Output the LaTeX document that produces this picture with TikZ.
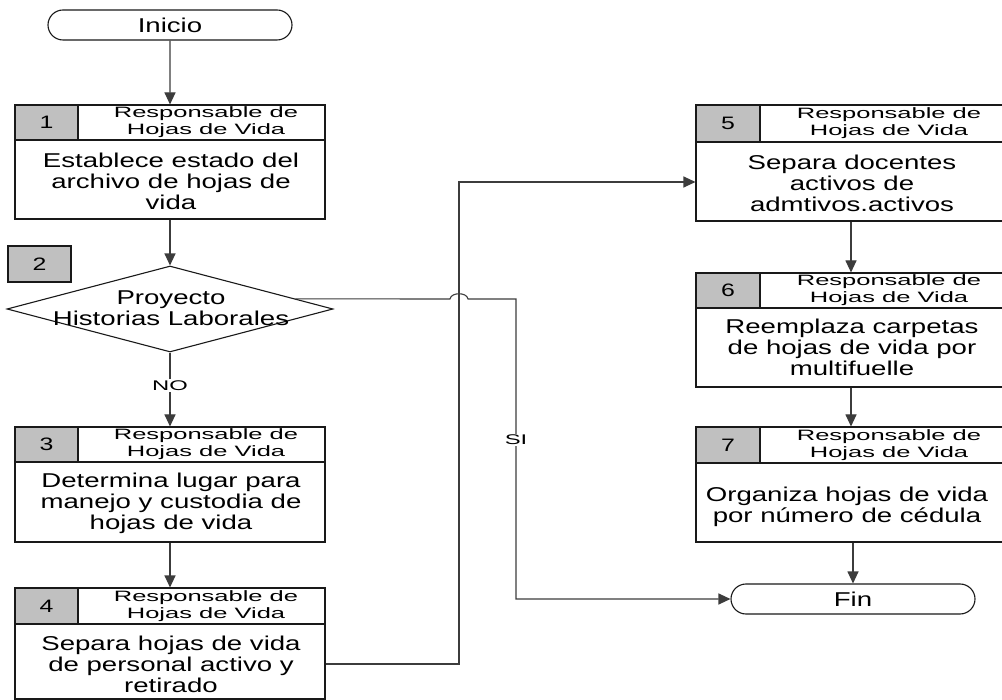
\documentclass[tikz,border=0pt]{standalone}
\usepackage{fontspec}
\setmainfont{Liberation Sans}
\newfontfamily\bodyfont[FakeStretch=1.38]{Liberation Sans}
\newfontfamily\hdrfont[FakeStretch=1.7]{Liberation Sans}
\usetikzlibrary{arrows.meta,shapes.geometric,shapes.misc,calc}

\definecolor{cellgray}{RGB}{192,192,192}
\definecolor{linegray}{RGB}{60,60,60}

\tikzset{
  edge/.style={draw=linegray, line width=1.1pt},
  flow/.style={edge, -{Triangle[length=12pt,width=11pt]}},
  procbox/.style={draw=black!90, line width=1.1pt, rectangle, minimum width=310pt, inner sep=0pt},
  numcell/.style={draw=black!90, line width=1.1pt, fill=cellgray, rectangle,
    minimum width=63pt, inner sep=0pt, font=\bodyfont\fontsize{18}{20}\selectfont},
  hdr/.style={align=center, inner sep=0pt, font=\hdrfont\fontsize{15}{17}\selectfont},
  body/.style={align=center, inner sep=0pt, font=\bodyfont\fontsize{20}{21}\selectfont},
  term/.style={draw=black!90, line width=1.1pt, rounded rectangle, minimum width=244pt,
    minimum height=30pt, inner sep=0pt, font=\bodyfont\fontsize{20}{21}\selectfont},
  decision/.style={draw=black!90, line width=1.1pt, diamond, aspect=3.8, minimum width=326pt,
    minimum height=86pt, inner sep=0pt},
  lab/.style={fill=white, inner sep=1.5pt, font=\hdrfont\fontsize{14}{16}\selectfont},
  rule/.style={draw=black!90, line width=1.1pt}
}

\begin{document}
\begin{tikzpicture}[x=1pt, y=-1pt]
\clip (0,0) rectangle (1002,700);
\fill[white] (0,0) rectangle (1002,700);

% start / end terminals
\node[term] (ini) at (170,25) {Inicio};
\node[term] (fin) at (853,599) {Fin};

% step 1
\node[procbox, minimum height=114pt] (b1) at (170,162) {};
\draw[rule] (b1.west |- 0,140) -- (b1.east |- 0,140);
\node[numcell, minimum height=35pt] (n1) at (46.5,122.5) {1};
\node[hdr] (h1) at (206,122.5) {Responsable de\\Hojas de Vida};
\node[body] (t1) at (171,181) {Establece estado del\\archivo de hojas de\\vida};

% step 2: decision
\node[numcell, minimum height=36pt] (n2) at (39.5,264) {2};
\node[decision] (d2) at (170,309) {};
\node[body] (t2) at (171,308) {Proyecto\\Historias Laborales};

% step 3
\node[procbox, minimum height=115pt] (b3) at (170,484.5) {};
\draw[rule] (b3.west |- 0,462) -- (b3.east |- 0,462);
\node[numcell, minimum height=35pt] (n3) at (46.5,444.5) {3};
\node[hdr] (h3) at (206,444.5) {Responsable de\\Hojas de Vida};
\node[body] (t3) at (171,503) {Determina lugar para\\manejo y custodia de\\hojas de vida};

% step 4
\node[procbox, minimum height=111pt] (b4) at (170,643.5) {};
\draw[rule] (b4.west |- 0,624) -- (b4.east |- 0,624);
\node[numcell, minimum height=36pt] (n4) at (46.5,606) {4};
\node[hdr] (h4) at (206,606) {Responsable de\\Hojas de Vida};
\node[body] (t4) at (171,664) {Separa hojas de vida\\de personal activo y\\retirado};

% step 5
\node[procbox, minimum height=116pt] (b5) at (851,163) {};
\draw[rule] (b5.west |- 0,142) -- (b5.east |- 0,142);
\node[numcell, minimum width=64pt, minimum height=37pt] (n5) at (728,123.5) {5};
\node[hdr] (h5) at (889,123.5) {Responsable de\\Hojas de Vida};
\node[body] (t5) at (852,183) {Separa docentes\\activos de\\admtivos.activos};

% step 6
\node[procbox, minimum height=114pt] (b6) at (851,330) {};
\draw[rule] (b6.west |- 0,308) -- (b6.east |- 0,308);
\node[numcell, minimum width=64pt, minimum height=35pt] (n6) at (728,290.5) {6};
\node[hdr] (h6) at (889,290.5) {Responsable de\\Hojas de Vida};
\node[body] (t6) at (852,347) {Reemplaza carpetas\\de hojas de vida por\\multifuelle};

% step 7
\node[procbox, minimum height=115pt] (b7) at (851,484.5) {};
\draw[rule] (b7.west |- 0,463) -- (b7.east |- 0,463);
\node[numcell, minimum width=64pt, minimum height=36pt] (n7) at (728,445) {7};
\node[hdr] (h7) at (889,445) {Responsable de\\Hojas de Vida};
\node[body] (t7) at (847,507) {Organiza hojas de vida\\por número de cédula};

% connectors, left column
\draw[flow] (ini) -- (b1);
\draw[flow] (b1) -- (d2);
\draw[flow] (d2) -- node[lab, pos=0.45] {NO} (b3);
\draw[flow] (b3) -- (b4);

% step 4 to step 5
\draw[flow] (b4.east |- t4.center) -- (459,664) -- (459,182) -- (b5.west |- 0,182);

% yes branch, hopping over the step 4 to 5 line
\coordinate (yes) at ($(d2.north)!0.767!(d2.east)$);
\draw[flow] (yes) -- (450,299) .. controls (451,292) and (467,292) .. (468,299)
  -- (516,299) -- node[lab, pos=0.47] {SI} (516,599) -- (fin);

% connectors, right column
\draw[flow] (b5) -- (b6);
\draw[flow] (b6) -- (b7);
\draw[flow] (b7.south -| fin) -- (fin.north);
\end{tikzpicture}
\end{document}
